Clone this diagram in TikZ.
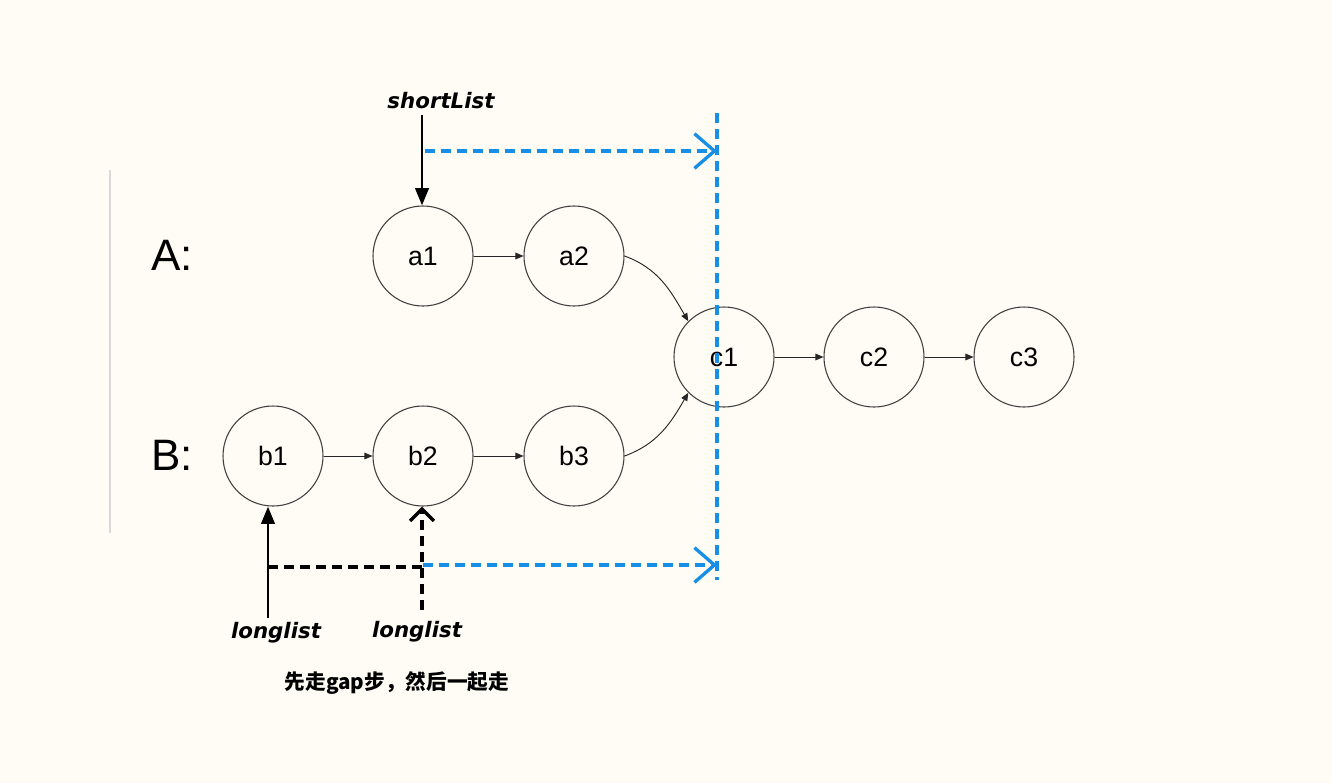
\documentclass[tikz,border=0pt]{standalone}
\usepackage{fontspec}
\setmainfont{Liberation Sans}
\newfontfamily\cjk{Noto Sans CJK SC}
\newfontfamily\hand{DejaVu Sans}
\usetikzlibrary{arrows.meta}
\definecolor{bg}{RGB}{254,252,245}
\definecolor{blu}{RGB}{24,143,230}
\begin{document}
\begin{tikzpicture}[x=0.75pt,y=-0.75pt,
  nd/.style={circle,draw=black!75,line width=0.8pt,minimum size=75pt,inner sep=0pt,font=\fontsize{20}{24}\selectfont},
  lnk/.style={-{Triangle[length=6pt,width=5pt]}, line width=0.7pt, black!85},
  thickarr/.style={-{Triangle[length=13pt,width=10pt]}, line width=2.2pt, black},
  bluedash/.style={blu, line width=2.5pt, dash pattern=on 7.5pt off 4.5pt},
  bluehead/.style={-{Straight Barb[length=15pt,width=26pt,line width=2.5pt]}},
  blackdash/.style={black, line width=2.5pt, dash pattern=on 7.5pt off 4.5pt},
  handlbl/.style={font=\hand\bfseries\itshape\fontsize{16}{18}\selectfont},
  rowlbl/.style={font=\fontsize{33}{36}\selectfont},
]
\fill[bg] (0,0) rectangle (1332,783);
\useasboundingbox (0,0) rectangle (1332,783);

% left line
\draw[black!15, line width=1pt] (110,170) -- (110,533);

% row labels
\node[rowlbl] (la) at (172,255) {A:};
\node[rowlbl] (lb) at (172,455) {B:};

% nodes
\node[nd] (a1) at (423,256) {a1};
\node[nd] (a2) at (574,256) {a2};
\node[nd] (b1) at (273,456) {b1};
\node[nd] (b2) at (423,456) {b2};
\node[nd] (b3) at (574,456) {b3};
\node[nd] (c1) at (724,357) {c1};
\node[nd] (c2) at (874,357) {c2};
\node[nd] (c3) at (1024,357) {c3};

% links
\draw[lnk] (a1) -- (a2);
\draw[lnk] (b1) -- (b2);
\draw[lnk] (b2) -- (b3);
\draw[lnk] (c1) -- (c2);
\draw[lnk] (c2) -- (c3);
\draw[lnk] (a2.east) to[out=-20,in=120] (c1.north west);
\draw[lnk] (b3.east) to[out=20,in=-120] (c1.south west);

% blue dashed
\coordinate (vt) at (717,113);
\coordinate (vb) at (717,580);
\coordinate (ts) at (425,151);
\coordinate (te) at (717,151);
\coordinate (bs) at (423,565);
\coordinate (be) at (717,565);
\draw[bluedash] (vt) -- (vb);
\draw[bluedash,bluehead] (ts) -- (te);
\draw[bluedash,bluehead] (bs) -- (be);

% shortList
\node[handlbl] (sl) at (441,101) {shortList};
\coordinate (slb) at (422,115);
\draw[thickarr] (slb) -- (a1.north -| slb);

% longlist b1
\coordinate (l1) at (268,618);
\draw[thickarr] (l1) -- (b1.south -| l1);
\coordinate (jn) at (268,567);
\coordinate (jm) at (422,567);
\draw[blackdash] (jn) -- (jm);
\coordinate (l2) at (422,610);
\draw[blackdash,-{Straight Barb[length=9pt,width=18pt,line width=2.5pt]}] (l2) -- (b2.south -| l2);

\node[handlbl] (ll1) at (276,633) {longlist};
\node[handlbl] (ll2) at (417,632) {longlist};
\node[font=\cjk\bfseries\fontsize{15.5}{18}\selectfont] (note) at (397,683) {先走gap步，然后一起走};
\end{tikzpicture}
\end{document}
